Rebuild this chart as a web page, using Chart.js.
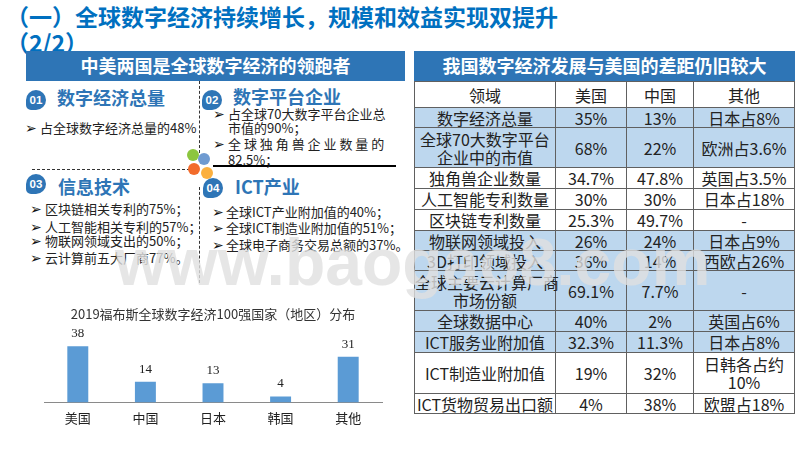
<!DOCTYPE html>
<html lang="zh">
<head>
<meta charset="utf-8">
<script src="https://cdn.jsdelivr.net/npm/chart.js@4"></script>
<style>
    html, body { margin: 0; padding: 0; background: #fff; }
    body { width: 800px; height: 450px; position: relative; overflow: hidden; font-family: "Noto Sans CJK SC", sans-serif; color: #222; }
    .abs { position: absolute; white-space: nowrap; }
    .title { left: 6px; font-size: 23px; font-weight: 700; color: #0070c0; line-height: 26px; }
    .bar { background: #2e75b6; color: #fff; font-weight: 700; font-size: 18px; text-align: center; }
    .head { font-size: 18px; font-weight: 700; color: #2e75b6; line-height: 24px; }
    .badge { width: 20px; height: 20px; line-height: 20px; background: #2e75b6; color: #fff; font: 700 11.5px/20px "Liberation Sans", sans-serif; text-align: center; border-radius: 50% 50% 50% 5px; }
    .txt { font-size: 13px; line-height: 16px; color: #222; }
    .arrow { font-family: "DejaVu Sans"; font-size: 14px; line-height: 16px; color: #111; }
    .dot { width: 12px; height: 12px; border-radius: 50%; }
    #sheet { left: 414px; top: 81px; width: 380px; table-layout: fixed; border-collapse: collapse; font-size: 16px; color: #222; }
    #sheet td { border: 1.5px solid #606060; padding: 0; text-align: center; line-height: 18px; white-space: pre; }
    #mark { left: 115px; top: 222px; font: 700 66px/80px "Liberation Sans", sans-serif; color: rgba(224,224,224,.8); }
</style>
</head>
<body>
<div class="abs title" style="top:3px">（一）全球数字经济持续增长，规模和效益实现双提升</div>
<div class="abs title" style="top:29px">（2/2）</div>

<div class="abs bar" style="left:26px;top:51px;width:379px;height:30px;line-height:29px">中美两国是全球数字经济的领跑者</div>
<div class="abs bar" style="left:414px;top:51px;width:381px;height:30px;line-height:29px">我国数字经济发展与美国的差距仍旧较大</div>

<div class="abs" style="left:199px;top:81px;height:72px;border-left:1px dashed #333"></div>
<div class="abs" style="left:199px;top:187px;height:96px;border-left:1px dashed #333"></div>
<div class="abs" style="left:32px;top:169px;width:158px;border-top:1px dashed #333"></div>
<div class="abs" style="left:213px;top:165px;width:183px;border-top:2px solid #000"></div>

<div class="abs dot" style="left:187px;top:149px;background:#8cc63f"></div>
<div class="abs dot" style="left:198px;top:153px;background:#6f9bd1"></div>
<div class="abs dot" style="left:188px;top:163px;background:#f26b2b"></div>
<div class="abs dot" style="left:201px;top:167px;background:#fbb040"></div>

<div class="abs badge" style="left:26px;top:90px">01</div>
<div class="abs badge" style="left:202px;top:90px">02</div>
<div class="abs badge" style="left:26px;top:174px">03</div>
<div class="abs badge" style="left:203px;top:178px">04</div>

<div class="abs head" style="left:57px;top:85px">数字经济总量</div>
<div class="abs head" style="left:233px;top:84px">数字平台企业</div>
<div class="abs head" style="left:58px;top:174px">信息技术</div>
<div class="abs head" style="left:235px;top:174px">ICT产业</div>

<div id="bullets"></div>

<div class="abs" style="left:0;top:295px;width:410px;height:145px"><canvas id="forbesChart"></canvas></div>

<table id="sheet" class="abs"><colgroup><col style="width:141px"><col style="width:71px"><col style="width:67px"><col style="width:101px"></colgroup><tbody></tbody></table>

<div id="mark" class="abs">www.baogao8.com</div>

<script>
const categories = ['美国', '中国', '日本', '韩国', '其他'];
const companyCounts = [38, 14, 13, 4, 31];
const chartTitle = '2019福布斯全球数字经济100强国家（地区）分布';

const tableFields = ['领域', '数字经济总量', '全球70大数字平台\n企业中的市值', '独角兽企业数量', '人工智能专利数量', '区块链专利数量', '物联网领域投入', '3D打印领域投入', '全球主要云计算厂商\n市场份额', '全球数据中心', 'ICT服务业附加值', 'ICT制造业附加值', 'ICT货物贸易出口额'];
const tableUS = ['美国', '35%', '68%', '34.7%', '30%', '25.3%', '26%', '36%', '69.1%', '40%', '32.3%', '19%', '4%'];
const tableCN = ['中国', '13%', '22%', '47.8%', '30%', '49.7%', '24%', '14%', '7.7%', '2%', '11.3%', '32%', '38%'];
const tableOther = ['其他', '日本占8%', '欧洲占3.6%', '英国占3.5%', '日本占18%', '-', '日本占9%', '西欧占26%', '-', '英国占6%', '日本占8%', '日韩各占约\n10%', '欧盟占18%'];
const rowHeights = [26, 20, 40, 21, 21, 21, 20, 20, 40, 21, 21, 41, 20];
const shadedRows = [1, 2, 6, 7, 8, 9, 10];

// arrow left, text left, top, text
const bulletLines = [
    [25, 40, 120, '占全球数字经济总量的48%'],
    [213, 228, 106, '占全球70大数字平台企业总'],
    [null, 228, 120, '市值的90%；'],
    [213, 228, 136, '全 球 独 角 兽 企 业 数 量 的'],
    [null, 228, 152, '82.5%；'],
    [30, 45, 201, '区块链相关专利的75%；'],
    [30, 45, 219, '人工智能相关专利的57%；'],
    [30, 45, 233, '物联网领域支出的50%；'],
    [30, 45, 250, '云计算前五大厂商77%。'],
    [212, 226, 204, '全球ICT产业附加值的40%；'],
    [212, 226, 220, '全球ICT制造业附加值的51%；'],
    [212, 226, 237, '全球电子商务交易总额的37%。']
];

const bullets = document.getElementById('bullets');
bulletLines.forEach(function (line) {
    if (line[0] !== null) {
        const a = document.createElement('div');
        a.className = 'abs arrow';
        a.style.left = line[0] + 'px';
        a.style.top = line[2] + 'px';
        a.textContent = '➢';
        bullets.appendChild(a);
    }
    const t = document.createElement('div');
    t.className = 'abs txt';
    t.style.left = line[1] + 'px';
    t.style.top = line[2] + 'px';
    t.textContent = line[3];
    bullets.appendChild(t);
});

const tbody = document.querySelector('#sheet tbody');
tableFields.forEach(function (field, i) {
    const tr = document.createElement('tr');
    tr.style.height = rowHeights[i] + 'px';
    tr.style.background = shadedRows.includes(i) ? '#bdd7ee' : '#fff';
    [field, tableUS[i], tableCN[i], tableOther[i]].forEach(function (text) {
        const td = document.createElement('td');
        td.textContent = text;
        tr.appendChild(td);
    });
    tbody.appendChild(tr);
});

// value above each bar, in the serif face of the original
const barValues = {
    id: 'barValues',
    afterDatasetsDraw(chart) {
        const ctx = chart.ctx;
        ctx.save();
        ctx.font = '13px "Liberation Serif"';
        ctx.fillStyle = '#222';
        ctx.textAlign = 'center';
        ctx.textBaseline = 'bottom';
        chart.getDatasetMeta(0).data.forEach(function (bar, i) {
            ctx.fillText(companyCounts[i], bar.x, bar.y - 6);
        });
        ctx.restore();
    }
};

new Chart(document.getElementById('forbesChart'), {
    type: 'bar',
    data: {
        labels: categories,
        datasets: [{
            data: companyCounts,
            backgroundColor: '#5b9bd5',
            barPercentage: 0.62,
            categoryPercentage: 0.5
        }]
    },
    options: {
        responsive: true,
        maintainAspectRatio: false,
        animation: false,
        layout: { padding: { left: 44, right: 28, top: 0, bottom: 6 } },
        plugins: {
            legend: { display: false },
            tooltip: { enabled: false },
            title: {
                display: true,
                text: chartTitle,
                color: '#333',
                font: { family: '"Noto Sans CJK SC"', size: 13, weight: 'normal' },
                padding: { top: 11, bottom: 7 }
            }
        },
        scales: {
            x: {
                grid: { display: false, drawTicks: false },
                border: { color: '#8a8a8a', width: 1 },
                ticks: { color: '#222', padding: 8, font: { family: '"Noto Sans CJK SC"', size: 13 } }
            },
            y: { display: false, min: 0, max: 50 }
        }
    },
    plugins: [barValues]
});
</script>
</body>
</html>
